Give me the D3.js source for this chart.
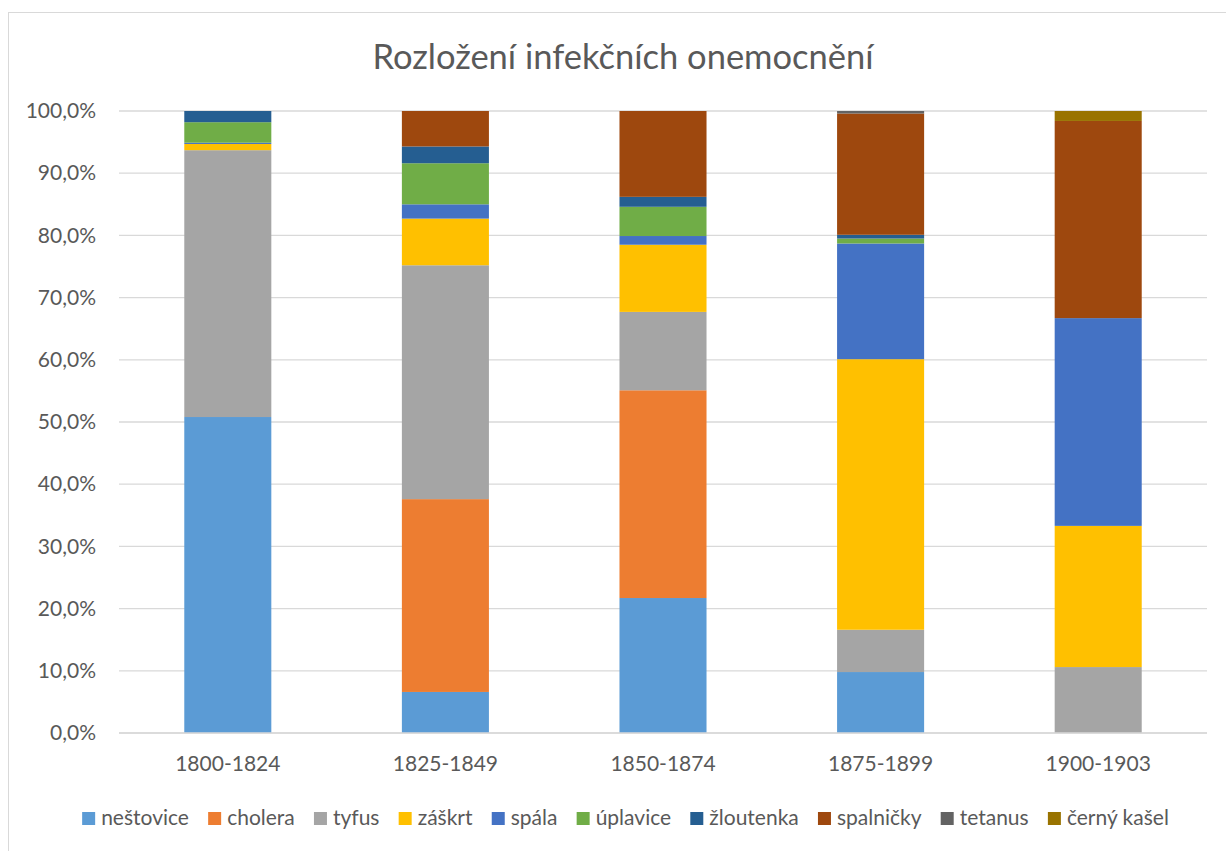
<!DOCTYPE html>
<html><head><meta charset="utf-8">
<script src="https://cdn.jsdelivr.net/npm/d3@7"></script>
<style>body{margin:0;background:#fff;}svg{display:block;font-family:Lato,"Open Sans",sans-serif;}</style>
</head><body>
<svg id="c" width="1226" height="851"></svg>
<script>
const categories = ["1800-1824","1825-1849","1850-1874","1875-1899","1900-1903"];
const seriesNames = ["neštovice","cholera","tyfus","záškrt","spála","úplavice","žloutenka","spalničky","tetanus","černý kašel"];
const colors = ["#5B9BD5","#ED7D31","#A5A5A5","#FFC000","#4472C4","#70AD47","#255E91","#9E480E","#636363","#997300"];
const nestovice  = [50.8, 6.6, 21.7, 9.8, 0];
const cholera    = [0, 31.0, 33.4, 0, 0];
const tyfus      = [42.9, 37.6, 12.6, 6.8, 10.6];
const zaskrt     = [1.0, 7.5, 10.8, 43.5, 22.7];
const spala      = [0.2, 2.3, 1.4, 18.6, 33.4];
const uplavice   = [3.3, 6.6, 4.7, 0.8, 0];
const zloutenka  = [1.8, 2.7, 1.6, 0.6, 0];
const spalnicky  = [0, 5.7, 13.8, 19.5, 31.7];
const tetanus    = [0, 0, 0, 0.4, 0];
const cernyKasel = [0, 0, 0, 0, 1.6];
const yTicks = [0,10,20,30,40,50,60,70,80,90,100];
const title = "Rozložení infekčních onemocnění";

const seriesValues = [nestovice,cholera,tyfus,zaskrt,spala,uplavice,zloutenka,spalnicky,tetanus,cernyKasel];
const rows = categories.map((c,i)=>{const o={cat:c}; seriesNames.forEach((s,j)=>o[s]=seriesValues[j][i]); return o;});
const stack = d3.stack().keys(seriesNames)(rows);

const FONT = "Lato,'Open Sans',sans-serif";
const svg = d3.select("#c");
svg.append("rect").attr("x",8.5).attr("y",12.5).attr("width",1240).attr("height",860)
  .attr("fill","#fff").attr("stroke","#d9d9d9").attr("stroke-width",1);

const pLeft=119, pRight=1207, pTop=111, pBottom=733;
const x = d3.scaleBand().domain(categories).range([pLeft,pRight]).paddingInner(0.6).paddingOuter(0.3);
const y = d3.scaleLinear().domain([0,100]).range([pBottom,pTop]);

svg.append("g").selectAll("line").data(yTicks).join("line")
  .attr("x1",pLeft).attr("x2",pRight).attr("y1",d=>y(d)).attr("y2",d=>y(d))
  .attr("stroke","#d9d9d9").attr("stroke-width",1.3);

svg.append("g").selectAll("g").data(stack).join("g")
  .attr("fill",(d,i)=>colors[i])
  .selectAll("rect").data(d=>d).join("rect")
  .attr("x",d=>x(d.data.cat)).attr("width",x.bandwidth())
  .attr("y",d=>y(d[1])).attr("height",d=>Math.max(0,y(d[0])-y(d[1])));

const yAxis = d3.axisLeft(y).tickValues(yTicks).tickSize(0).tickPadding(0)
  .tickFormat(d=>d3.format(".1f")(d).replace(".",",")+"%");
const ya = svg.append("g").attr("transform",`translate(96,0)`).call(yAxis);
ya.select(".domain").remove();
ya.selectAll("text").attr("fill","#595959").style("font-size","21px").style("font-family",FONT);

const xAxis = d3.axisBottom(x).tickSize(0).tickPadding(0);
const xa = svg.append("g").attr("transform",`translate(0,${pBottom+23})`).call(xAxis);
xa.select(".domain").remove();
xa.selectAll("text").attr("fill","#595959").style("font-size","21px").style("font-family",FONT);

svg.append("line").attr("x1",pLeft).attr("x2",pRight).attr("y1",pBottom).attr("y2",pBottom)
  .attr("stroke","#d9d9d9").attr("stroke-width",1.3);

svg.append("text").attr("x",623).attr("y",69).attr("text-anchor","middle")
  .attr("fill","#595959").style("font-size","34.5px").text(title);

const lg = svg.append("g");
const items = lg.selectAll("g").data(seriesNames).join("g");
items.append("rect").attr("width",13).attr("height",13).attr("y",-13).attr("fill",(d,i)=>colors[i]);
items.append("text").attr("x",19).attr("y",0).attr("fill","#595959").style("font-size","21px").text(d=>d);
const widths=[];
items.each(function(){widths.push(19+d3.select(this).select("text").node().getComputedTextLength());});
const gap=19.2;
const total = d3.sum(widths)+gap*(widths.length-1);
let cx = 625.5 - total/2;
items.attr("transform",(d,i)=>{const t=`translate(${cx},825)`; cx+=widths[i]+gap; return t;});
</script>
</body></html>
